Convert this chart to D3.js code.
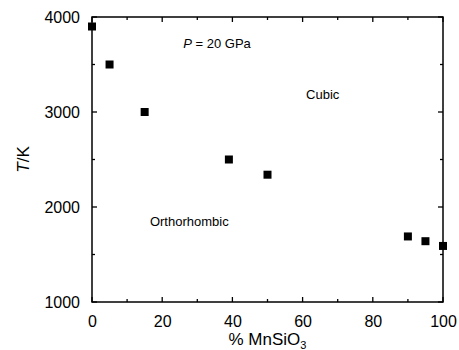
<!DOCTYPE html>
<html>
<head>
<meta charset="utf-8">
<script src="https://cdn.jsdelivr.net/npm/d3@7"></script>
<style>
  body { margin: 0; background: #fff; }
  svg { display: block; font-family: "Liberation Sans", Arial, sans-serif; }
</style>
</head>
<body>
<div id="chart"></div>
<script>
// composition (% MnSiO3) and transition temperature (K)
const pctMnSiO3 = [0, 5, 15, 39, 50, 90, 95, 100];
const tempK = [3900, 3500, 3000, 2500, 2340, 1690, 1640, 1590];
const xTicks = [0, 20, 40, 60, 80, 100];
const yTicks = [1000, 2000, 3000, 4000];

const W = 459, H = 350;
const margin = { top: 17, right: 16, bottom: 48, left: 92 };
const width = W - margin.left - margin.right;
const height = H - margin.top - margin.bottom;

const svg = d3.select('#chart').append('svg')
  .attr('width', W)
  .attr('height', H);

const g = svg.append('g')
  .attr('transform', `translate(${margin.left},${margin.top})`);

const x = d3.scaleLinear().domain([0, 100]).range([0, width]);
const y = d3.scaleLinear().domain([1000, 4000]).range([height, 0]);

const minorX = d3.range(10, 100, 20);
const minorY = d3.range(1500, 4000, 1000);

// tick labels from the axes, tick marks drawn inward below
g.append('g')
  .attr('transform', `translate(0,${height})`)
  .call(d3.axisBottom(x).tickValues(xTicks).tickSize(0).tickPadding(14).tickFormat(d3.format('d')));
g.append('g')
  .call(d3.axisLeft(y).tickValues(yTicks).tickSize(0).tickPadding(12).tickFormat(d3.format('d')));

g.selectAll('.domain').remove();
g.selectAll('.tick text')
  .attr('fill', '#000')
  .style('font-size', '16px')
  .style('font-family', '"Liberation Sans", Arial, sans-serif');

const ticks = g.append('g').attr('stroke', '#000').attr('stroke-width', 1.3);
const xt = xTicks.map(v => ({ v, len: 5 })).concat(minorX.map(v => ({ v, len: 3 })));
const yt = yTicks.map(v => ({ v, len: 5 })).concat(minorY.map(v => ({ v, len: 3 })));

ticks.selectAll('.xb').data(xt).enter().append('line')
  .attr('x1', d => x(d.v)).attr('x2', d => x(d.v))
  .attr('y1', height).attr('y2', d => height - d.len);
ticks.selectAll('.xt').data(xt).enter().append('line')
  .attr('x1', d => x(d.v)).attr('x2', d => x(d.v))
  .attr('y1', 0).attr('y2', d => d.len);
ticks.selectAll('.yl').data(yt).enter().append('line')
  .attr('y1', d => y(d.v)).attr('y2', d => y(d.v))
  .attr('x1', 0).attr('x2', d => d.len);
ticks.selectAll('.yr').data(yt).enter().append('line')
  .attr('y1', d => y(d.v)).attr('y2', d => y(d.v))
  .attr('x1', width).attr('x2', d => width - d.len);

// frame
g.append('rect')
  .attr('width', width)
  .attr('height', height)
  .attr('fill', 'none')
  .attr('stroke', '#000')
  .attr('stroke-width', 1.5);

// data points
const s = 8;
g.selectAll('.pt')
  .data(pctMnSiO3)
  .enter().append('rect')
  .attr('class', 'pt')
  .attr('x', (d) => x(d) - s / 2)
  .attr('y', (d, i) => y(tempK[i]) - s / 2)
  .attr('width', s)
  .attr('height', s)
  .attr('fill', '#000');

// annotations
const p = g.append('text')
  .attr('x', x(26))
  .attr('y', y(3670))
  .style('font-size', '13px');
p.append('tspan').style('font-style', 'italic').text('P');
p.append('tspan').text(' = 20 GPa');

g.append('text')
  .attr('x', x(61))
  .attr('y', y(3140))
  .style('font-size', '13px')
  .text('Cubic');

g.append('text')
  .attr('x', x(16.5))
  .attr('y', y(1800))
  .style('font-size', '13px')
  .text('Orthorhombic');

// axis titles
const xl = svg.append('text')
  .attr('x', margin.left + width / 2)
  .attr('y', 345)
  .attr('text-anchor', 'middle')
  .style('font-size', '17px');
xl.append('tspan').text('% MnSiO');
xl.append('tspan').attr('dy', 4).style('font-size', '11px').text('3');

const yl = svg.append('text')
  .attr('transform', `translate(29,${margin.top + height / 2}) rotate(-90)`)
  .attr('text-anchor', 'middle')
  .style('font-size', '17px');
yl.append('tspan').style('font-style', 'italic').text('T');
yl.append('tspan').text('/K');
</script>
</body>
</html>
